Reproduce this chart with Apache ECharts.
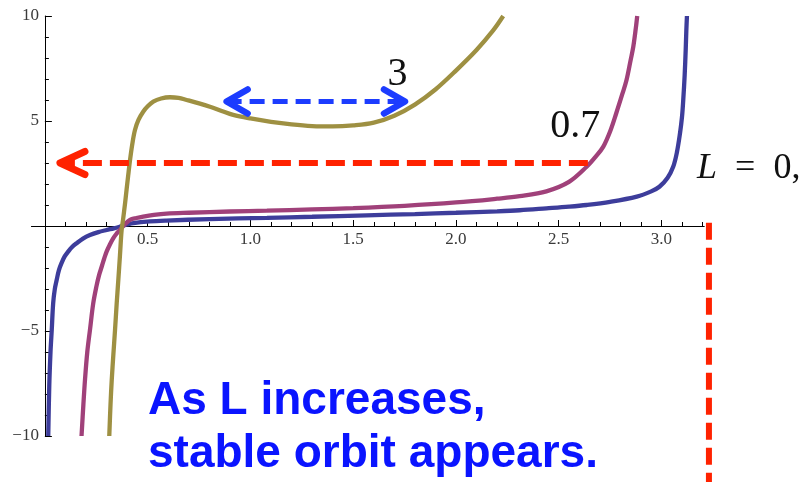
<!DOCTYPE html>
<html>
<head>
<meta charset="utf-8">
<script src="https://cdn.jsdelivr.net/npm/echarts@6/dist/echarts.min.js"></script>
<style>
html,body{margin:0;padding:0;background:#fff;}
#c{width:805px;height:482px;}
</style>
</head>
<body>
<div id="c"></div>
<script>
// ---- tick labels ----
const xTickValues = [0.5, 1.0, 1.5, 2.0, 2.5, 3.0];
const xMinorTickValues = [0.1, 0.2, 0.3, 0.4, 0.6, 0.7, 0.8, 0.9, 1.1, 1.2, 1.3, 1.4, 1.6, 1.7, 1.8, 1.9,
  2.1, 2.2, 2.3, 2.4, 2.6, 2.7, 2.8, 2.9, 3.1, 3.2];

// ---- series values [x, y] ----
const curveL0 = [
  [0.016, -10], [0.021, -7.6], [0.027, -6.0], [0.033, -4.95], [0.040, -3.67], [0.048, -3.0],
  [0.057, -2.57], [0.068, -2.1], [0.081, -1.76], [0.096, -1.45], [0.113, -1.22], [0.132, -1.0],
  [0.154, -0.82], [0.185, -0.6], [0.219, -0.43], [0.260, -0.29], [0.300, -0.19], [0.335, -0.11],
  [0.365, -0.03], [0.400, 0.07], [0.430, 0.14], [0.510, 0.22],
  [0.590, 0.26], [0.800, 0.33], [1.080, 0.39], [1.300, 0.44], [1.565, 0.51], [1.800, 0.57],
  [2.000, 0.63], [2.200, 0.70], [2.310, 0.75], [2.440, 0.84], [2.550, 0.92], [2.636, 1.0],
  [2.750, 1.15], [2.880, 1.40], [2.950, 1.65], [2.990, 1.87], [3.030, 2.3], [3.057, 2.82],
  [3.075, 3.5], [3.090, 4.4], [3.100, 5.2], [3.106, 6.0], [3.113, 7.2], [3.118, 8.4],
  [3.121, 9.3], [3.124, 10.0]
];
const curveL07 = [
  [0.178, -10], [0.187, -8.5], [0.195, -7.3], [0.206, -6.0], [0.219, -4.95], [0.235, -3.68],
  [0.251, -2.85], [0.263, -2.35], [0.276, -1.94], [0.288, -1.56], [0.300, -1.22], [0.316, -0.88],
  [0.332, -0.59], [0.348, -0.37], [0.365, -0.19], [0.385, 0.04], [0.414, 0.29], [0.445, 0.38],
  [0.478, 0.45], [0.530, 0.53], [0.592, 0.59],
  [0.700, 0.63], [0.900, 0.69], [1.080, 0.73], [1.300, 0.79], [1.500, 0.85], [1.750, 0.96],
  [2.000, 1.12], [2.200, 1.30], [2.310, 1.42], [2.440, 1.65], [2.550, 2.10], [2.636, 2.82],
  [2.680, 3.30], [2.717, 3.78], [2.750, 4.50], [2.780, 5.37], [2.810, 6.30], [2.830, 6.95],
  [2.850, 7.90], [2.863, 8.54], [2.875, 9.40], [2.882, 10.0]
];
const curveL3 = [
  [0.313, -10], [0.319, -8.5], [0.325, -7.33], [0.333, -6.1], [0.341, -4.95], [0.349, -3.7],
  [0.357, -2.57], [0.365, -1.4], [0.373, -0.2], [0.380, 0.3], [0.390, 1.1], [0.397, 1.71],
  [0.405, 2.4], [0.414, 3.14], [0.425, 3.9], [0.438, 4.57], [0.455, 5.05], [0.478, 5.44],
  [0.500, 5.70], [0.527, 5.92], [0.565, 6.07], [0.608, 6.13], [0.650, 6.10], [0.690, 6.00],
  [0.750, 5.84], [0.803, 5.68], [0.860, 5.48], [0.916, 5.29], [1.000, 5.12], [1.100, 4.96],
  [1.200, 4.84], [1.300, 4.76], [1.400, 4.74], [1.500, 4.79], [1.600, 4.92], [1.700, 5.25],
  [1.800, 5.78], [1.900, 6.50], [2.000, 7.40], [2.100, 8.38], [2.180, 9.30], [2.230, 10.0]
];

// ---- annotations (data coordinates) ----
const blueArrow = [[0.884, 5.93, 1.752, 5.93]];
const redArrow = [[2.642, 3.0, 0.073, 3.0]];
const redDrop = [[3.231, 0.15, 3.231, -12.3]];
const curveLabels = ['3', '0.7', 'L = 0,'];
const curveLabelAt = [[1.707, 7.2], [2.577, 4.74], [3.173, 2.73]];
const captionLines = ['As L increases,', 'stable orbit appears.'];

const serif = '"Liberation Serif", "DejaVu Serif", serif';

function arrowRenderer(st) {
  return function (params, api) {
    const p1 = api.coord([api.value(0), api.value(1)]);
    const p2 = api.coord([api.value(2), api.value(3)]);
    const children = [{
      type: 'line',
      shape: { x1: p1[0], y1: p1[1], x2: p2[0], y2: p2[1] },
      style: { stroke: st.color, lineWidth: st.width, lineDash: st.dash, lineCap: 'butt' }
    }];
    const dx = p2[0] - p1[0], dy = p2[1] - p1[1];
    const len = Math.hypot(dx, dy), ux = dx / len, uy = dy / len, nx = -uy, ny = ux;
    function head(P, sx, sy) {
      children.push({
        type: 'polyline',
        shape: { points: [
          [P[0] - sx * st.hl + nx * st.hw, P[1] - sy * st.hl + ny * st.hw],
          [P[0], P[1]],
          [P[0] - sx * st.hl - nx * st.hw, P[1] - sy * st.hl - ny * st.hw]
        ] },
        style: { stroke: st.color, lineWidth: st.headWidth, lineCap: 'round', lineJoin: 'round', fill: null }
      });
    }
    if (st.headStart) head(p1, -ux, -uy);
    if (st.headEnd) head(p2, ux, uy);
    return { type: 'group', children: children };
  };
}

function curveSeries(name, data, color) {
  return {
    name: name, type: 'line', data: data, showSymbol: false, symbol: 'none',
    smooth: 0.35, clip: true,
    lineStyle: { color: color, width: 4.3 }, silent: true
  };
}

function arrowSeries(data, st, z) {
  return {
    type: 'custom', coordinateSystem: 'cartesian2d', clip: false, silent: true, z: z,
    dimensions: ['x1', 'y1', 'x2', 'y2'], encode: { x: [0, 2], y: [1, 3] },
    data: data, renderItem: arrowRenderer(st)
  };
}

const chart = echarts.init(document.getElementById('c'), null, { renderer: 'canvas' });

const xMin = -0.065, xMax = 3.207, yMin = -10, yMax = 10;
chart.setOption({
  animation: false,
  backgroundColor: '#ffffff',
  grid: { left: 31.6, right: 101, top: 16, bottom: 46 },
  xAxis: [{
    type: 'value', min: xMin, max: xMax, position: 'bottom', offset: 0,
    axisLine: { onZero: false, lineStyle: { color: '#000', width: 1 } },
    axisTick: { show: true, inside: true, length: 6, customValues: xTickValues, lineStyle: { color: '#000' } },
    axisLabel: { show: true, customValues: xTickValues, formatter: v => Number(v).toFixed(1),
      fontFamily: serif, fontSize: 17, color: '#3a3a3a', margin: 5 },
    splitLine: { show: false }
  }, {
    type: 'value', min: xMin, max: xMax, position: 'top', offset: 0,
    axisLine: { onZero: false, lineStyle: { color: '#000', width: 1 } },
    axisTick: { show: true, inside: false, length: 4, customValues: xMinorTickValues, lineStyle: { color: '#000' } },
    axisLabel: { show: false },
    splitLine: { show: false }
  }],
  yAxis: {
    type: 'value', min: yMin, max: yMax, interval: 5, position: 'left', offset: 0,
    axisLine: { onZero: false, lineStyle: { color: '#000', width: 1 } },
    axisTick: { show: true, inside: true, length: 7, lineStyle: { color: '#000' } },
    minorTick: { show: true, splitNumber: 5, length: 4, lineStyle: { color: '#000' } },
    axisLabel: { formatter: v => v === 0 ? '' : (v < 0 ? '\u2212' + (-v) : String(v)),
      fontFamily: serif, fontSize: 17, color: '#3a3a3a', margin: 6 },
    splitLine: { show: false }, minorSplitLine: { show: false }
  },
  series: [
    curveSeries('L=0', curveL0, '#3d3d9b'),
    curveSeries('L=0.7', curveL07, '#a0417a'),
    curveSeries('L=3', curveL3, '#9e9042'),
    arrowSeries(blueArrow, { color: '#1c3cff', width: 5, dash: [15, 8], hl: 21, hw: 12, headWidth: 6.5, headStart: true, headEnd: true }, 6),
    arrowSeries(redArrow, { color: '#ff2200', width: 6, dash: [19, 8], hl: 25, hw: 11.5, headWidth: 7, headStart: false, headEnd: true }, 6),
    arrowSeries(redDrop, { color: '#ff2200', width: 6, dash: [17, 8], hl: 0, hw: 0, headWidth: 0, headStart: false, headEnd: false }, 6)
  ]
});

// move the axes so they cross at the origin (Mathematica style)
const toPx = p => chart.convertToPixel({ xAxisIndex: 0, yAxisIndex: 0 }, p);
const origin = toPx([0, 0]);
const bottomLeft = toPx([xMin, yMin]);
const topRight = toPx([xMax, yMax]);
const pl0 = toPx(curveLabelAt[0]), pl1 = toPx(curveLabelAt[1]), pl2 = toPx(curveLabelAt[2]);
chart.setOption({
  xAxis: [{ offset: origin[1] - bottomLeft[1] }, { offset: topRight[1] - origin[1] }],
  yAxis: { offset: bottomLeft[0] - origin[0] },
  graphic: [
    { type: 'text', x: pl0[0], y: pl0[1], z: 10,
      style: { text: curveLabels[0], font: '40px ' + serif, fill: '#111', align: 'center', verticalAlign: 'middle' } },
    { type: 'text', x: pl1[0], y: pl1[1], z: 10,
      style: { text: curveLabels[1], font: '40px ' + serif, fill: '#111', align: 'center', verticalAlign: 'middle' } },
    { type: 'text', x: pl2[0], y: pl2[1], z: 10,
      style: { text: '{i|L}  =  0,', font: '36px ' + serif, fill: '#111', align: 'left', verticalAlign: 'middle',
        rich: { i: { fontStyle: 'italic', fontFamily: serif, fontSize: 36, fill: '#111' } } } },
    { type: 'text', x: 148, y: 401, z: 10,
      style: { text: captionLines[0], font: 'bold 46px "Liberation Sans", Arial, sans-serif', fill: '#0a14ff', align: 'left', verticalAlign: 'middle' } },
    { type: 'text', x: 148, y: 454, z: 10,
      style: { text: captionLines[1], font: 'bold 46px "Liberation Sans", Arial, sans-serif', fill: '#0a14ff', align: 'left', verticalAlign: 'middle' } }
  ]
});
</script>
</body>
</html>
